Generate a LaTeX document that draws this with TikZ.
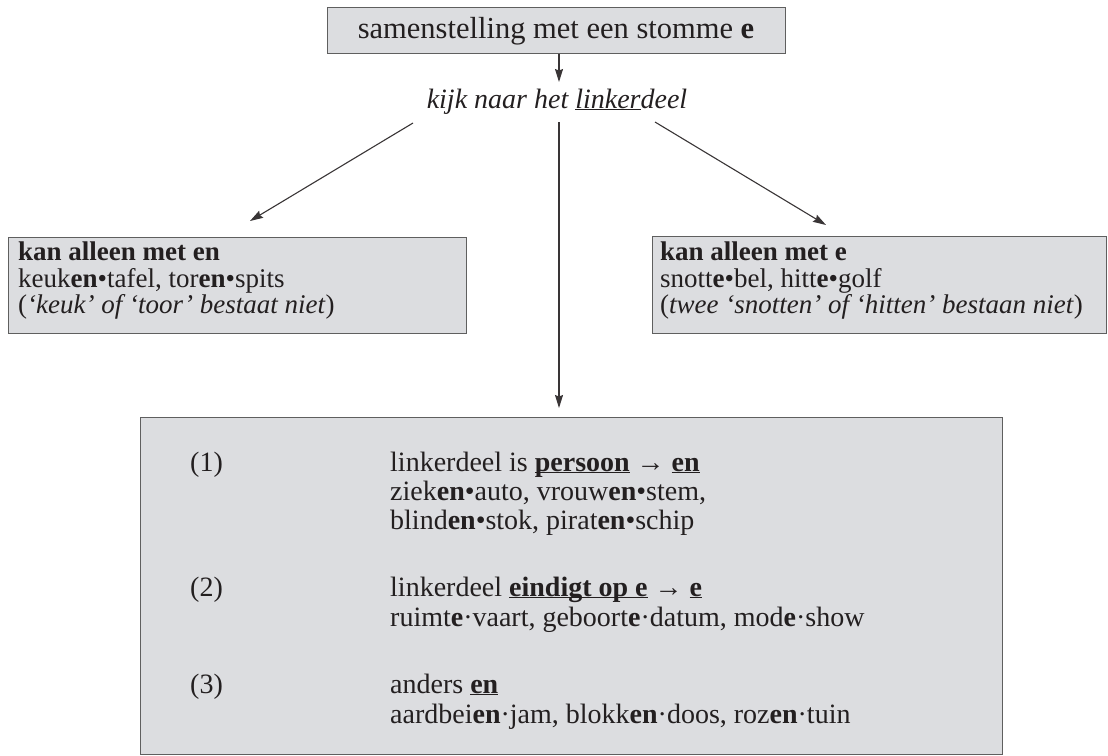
\documentclass[tikz,border=0pt]{standalone}
\usepackage{fontspec}
\setmainfont{Liberation Serif}
\usetikzlibrary{arrows.meta}
\definecolor{boxfill}{RGB}{220,221,224}
\definecolor{boxline}{RGB}{95,95,95}
\definecolor{ink}{RGB}{35,31,32}
\newcommand\myul[1]{\underline{\smash{#1}}}
\begin{document}
\begin{tikzpicture}[x=1pt,y=-1pt, font=\fontsize{27}{29}\selectfont,
  box/.style={draw=boxline, fill=boxfill, line width=1.3pt, inner sep=0pt, anchor=north west},
  txt/.style={anchor=base west, inner sep=0pt, text=ink},
  btxt/.style={txt, font=\fontsize{28}{29}\selectfont},
  ctxt/.style={anchor=base, inner sep=0pt, text=ink},
  conn/.style={draw=ink!90, line width=1.1pt, -{Stealth[length=13pt,width=8pt,inset=1.5pt]}}]
\useasboundingbox (0,0) rectangle (1108,755);
% boxes
\node[box, minimum width=458pt, minimum height=46pt] (top) at (327,7) {};
\node[box, minimum width=458pt, minimum height=96pt] (lbox) at (8,237) {};
\node[box, minimum width=454pt, minimum height=97pt] (rbox) at (652,236) {};
\node[box, minimum width=862pt, minimum height=337pt] (bbox) at (140,417) {};
% top texts
\node[ctxt, font=\fontsize{30.5}{32}\selectfont] (toptxt) at (556,38) {samenstelling met een stomme \textbf{e}};
\node[ctxt, font=\fontsize{28}{30}\selectfont] (kijk) at (557,108) {\itshape kijk naar het \myul{linker}deel};
% connector ends
\coordinate (k1) at (559,82);
\coordinate (ls) at (413,123);
\coordinate (le) at (250,221);
\coordinate (rs) at (655,122);
\coordinate (re) at (826,225);
\coordinate (ms) at (559,122);
\coordinate (me) at (559,408);
\draw[conn] (top.south -| k1) -- (k1);
\draw[conn] (ls) -- (le);
\draw[conn] (rs) -- (re);
\draw[conn] (ms) -- (me);
% left box
\node[txt] (l1) at (18,260) {\textbf{kan alleen met en}};
\node[txt] (l2) at (18,287) {keuk\textbf{en}•tafel, tor\textbf{en}•spits};
\node[txt] (l3) at (18,313) {(\textit{‘keuk’ of ‘toor’ bestaat niet})};
% right box
\node[txt] (r1) at (660,260) {\textbf{kan alleen met e}};
\node[txt] (r2) at (660,287) {snott\textbf{e}•bel, hitt\textbf{e}•golf};
\node[txt] (r3) at (660,313) {(\textit{twee ‘snotten’ of ‘hitten’ bestaan niet})};
% bottom box
\node[btxt] (n1) at (190,471) {(1)};
\node[btxt] (a1) at (390,471) {linkerdeel is \textbf{\myul{persoon}} → \textbf{\myul{en}}};
\node[btxt] (a2) at (390,500) {ziek\textbf{en}•auto, vrouw\textbf{en}•stem,};
\node[btxt] (a3) at (390,529) {blind\textbf{en}•stok, pirat\textbf{en}•schip};
\node[btxt] (n2) at (190,596) {(2)};
\node[btxt] (b1) at (390,596) {linkerdeel \textbf{\myul{eindigt op e}} → \textbf{\myul{e}}};
\node[btxt] (b2) at (390,626) {ruimt\textbf{e}·vaart, geboort\textbf{e}·datum, mod\textbf{e}·show};
\node[btxt] (n3) at (190,693) {(3)};
\node[btxt] (c1) at (390,693) {anders \textbf{\myul{en}}};
\node[btxt] (c2) at (390,723) {aardbei\textbf{en}·jam, blokk\textbf{en}·doos, roz\textbf{en}·tuin};
\end{tikzpicture}
\end{document}
